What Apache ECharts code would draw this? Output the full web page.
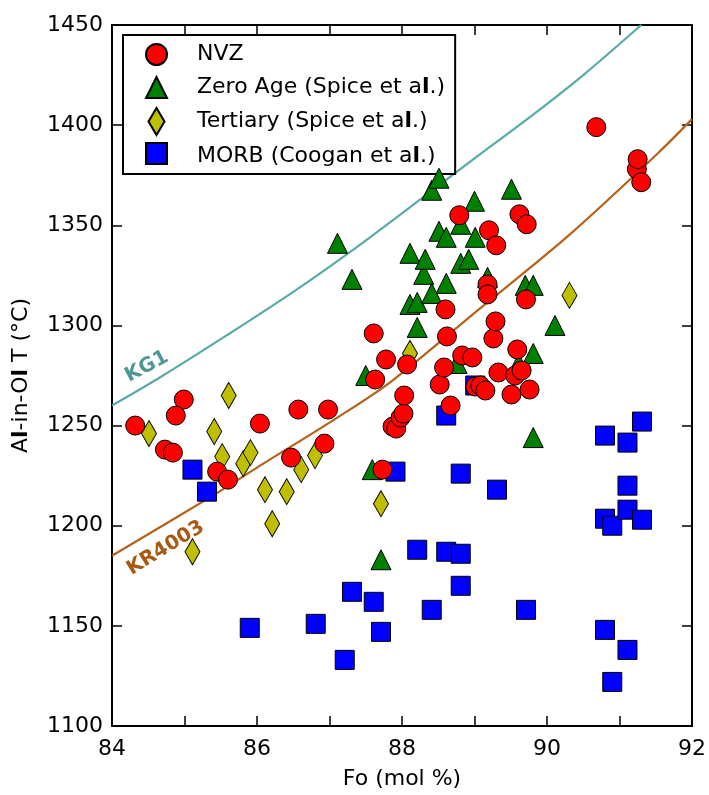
<!DOCTYPE html>
<html>
<head>
<meta charset="utf-8">
<script src="https://cdn.jsdelivr.net/npm/echarts@6/dist/echarts.min.js"></script>
<style>
  html, body { margin: 0; padding: 0; background: #fff; }
  #chart { width: 709px; height: 795px; }
</style>
</head>
<body>
<div id="chart"></div>
<script>
// Olivine Al-in-Ol temperatures against forsterite content, [Fo, T]
const nvz = [
  [84.32,1250],[84.99,1263],[84.88,1255],[84.73,1238],[84.84,1236.5],
  [85.45,1227],[85.60,1223],[86.04,1251],[86.57,1258],[86.98,1258],
  [86.47,1234],[86.93,1241],[87.61,1296],[87.78,1283],[87.63,1273],
  [87.73,1228],[87.87,1249.5],[87.92,1248.5],[87.98,1254],[88.02,1256],
  [88.03,1265],[88.07,1280.5],[88.52,1270.5],[88.58,1279],[88.60,1308],
  [88.62,1294.5],[88.67,1260],[88.79,1355],[88.83,1285],[88.97,1284],
  [89.01,1269.5],[89.08,1270],[89.15,1267.5],[89.18,1320.5],[89.18,1315.5],
  [89.20,1347.5],[89.26,1293.5],[89.29,1302],[89.30,1340],[89.33,1276.5],
  [89.51,1265.5],[89.56,1275],[89.59,1288],[89.62,1355.5],[89.65,1277.5],
  [89.71,1313],[89.72,1350.5],[89.76,1268],[90.68,1399],[91.24,1378],
  [91.25,1383],[91.30,1371.5]
];
const zeroAge = [
  [87.11,1341],[87.31,1323],[87.50,1275],[87.59,1228],[87.71,1183],
  [88.11,1336],[88.11,1310.5],[88.21,1311.5],[88.21,1299],[88.30,1325.5],
  [88.32,1333],[88.41,1367.5],[88.41,1316],[88.51,1373.5],[88.51,1347],
  [88.61,1344],[88.61,1321],[88.76,1281],[88.81,1350.5],[88.81,1331],
  [88.92,1333],[89.01,1344],[89.00,1362],[89.18,1324],[89.51,1368],
  [89.61,1281],[89.70,1320],[89.81,1320],[89.81,1286],[89.81,1244],
  [90.11,1300]
];
const tertiary = [
  [84.51,1246],[85.11,1187],[85.41,1247],[85.52,1234.5],[85.61,1265],
  [85.81,1231],[85.91,1236.5],[86.11,1218],[86.21,1201],[86.41,1217],
  [86.61,1228],[86.80,1235],[87.71,1211],[88.11,1286],[90.31,1315]
];
const morb = [
  [85.11,1228],[85.31,1217],[85.90,1149],[86.81,1151],[87.21,1133],
  [87.31,1167],[87.61,1162],[87.71,1147],[87.91,1227],[88.21,1188],
  [88.41,1158],[88.61,1255],[88.61,1187],[88.81,1186],[88.81,1226],
  [88.81,1170],[89.01,1270],[89.31,1218],[89.71,1158],[90.80,1245],
  [90.80,1203.5],[90.80,1148],[90.90,1200],[90.90,1122],[91.11,1241.5],
  [91.11,1220],[91.11,1208],[91.11,1138],[91.31,1252],[91.31,1203]
];
// Model curves (Fo, T)
const curveKG1 = [
  [84.0,1260],[84.66,1274],[85.58,1295],[86.49,1316.5],[87.41,1340],
  [88.33,1365],[89.06,1385],[89.8,1405],[90.5,1425],[91.3,1450]
];
const curveKR4003 = [
  [84.0,1185],[85.39,1215],[86.0,1229],[87.13,1254.5],[87.85,1272],
  [89.06,1308],[90.3,1345],[91.53,1386],[92.0,1403]
];
const seriesNames = ['NVZ', 'Zero Age (Spice et al.)', 'Tertiary (Spice et al.)', 'MORB (Coogan et al.)'];
const xTicks = { min: 84, max: 92, step: 1 };
const yTicks = { min: 1100, max: 1450, step: 50 };

const FONT = 'DejaVu Sans';
const FS = 22;
const boldL = s => s.replace(/l/g, '{b|l}');

const chart = echarts.init(document.getElementById('chart'), null, { renderer: 'canvas' });

const frameAxis = {
  axisLine: { show: true, onZero: false, lineStyle: { color: '#000', width: 2 } },
  axisTick: { show: true, inside: true, length: 10, lineStyle: { color: '#000', width: 1.5 } },
  splitLine: { show: false }
};

const mk = (name, data, symbol, size, color, z) => ({
  name, type: 'scatter', data, symbol, symbolSize: size, z,
  itemStyle: { color, borderColor: '#000', borderWidth: 1, opacity: 1 },
  emphasis: { disabled: true }
});

const curve = (name, data, color) => ({
  name, type: 'line', data, smooth: 0.3,
  showSymbol: false, symbol: 'none',
  lineStyle: { color, width: 2.2 }, z: 1, silent: true, clip: true
});

chart.setOption({
  animation: false,
  backgroundColor: '#fff',
  grid: { left: 112, right: 15, top: 25, bottom: 67, containLabel: false },
  xAxis: [
    Object.assign({}, frameAxis, {
      type: 'value', position: 'bottom', min: xTicks.min, max: xTicks.max, interval: xTicks.step,
      axisLabel: {
        fontFamily: FONT, fontSize: FS, color: '#000', margin: 12,
        formatter: v => (v % 2 === 0 ? String(v) : '')
      },
      name: 'Fo (mol %)', nameLocation: 'middle', nameGap: 42,
      nameTextStyle: { fontFamily: FONT, fontSize: FS, color: '#000' }
    }),
    Object.assign({}, frameAxis, {
      type: 'value', position: 'top', min: xTicks.min, max: xTicks.max, interval: xTicks.step,
      axisLabel: { show: false }
    })
  ],
  yAxis: [
    Object.assign({}, frameAxis, {
      type: 'value', position: 'left', min: yTicks.min, max: yTicks.max, interval: yTicks.step,
      axisLabel: { fontFamily: FONT, fontSize: FS, color: '#000', margin: 9, formatter: v => String(v) },
      name: '{n|A}{b|l}{n|-in-O}{b|l}{n| T (°C)}', nameLocation: 'middle', nameGap: 80,
      nameTextStyle: {
        fontFamily: FONT, fontSize: FS, color: '#000',
        rich: {
          n: { fontFamily: FONT, fontSize: FS, color: '#000' },
          b: { fontFamily: FONT, fontSize: FS, color: '#000', fontWeight: 'bold' }
        }
      }
    }),
    Object.assign({}, frameAxis, {
      type: 'value', position: 'right', min: yTicks.min, max: yTicks.max, interval: yTicks.step,
      axisLabel: { show: false }
    })
  ],
  legend: {
    orient: 'vertical', left: 123, top: 35,
    padding: [6, 10, 4, 22],
    itemWidth: 21, itemHeight: 27, itemGap: 6,
    symbolKeepAspect: true,
    backgroundColor: '#fff', borderColor: '#000', borderWidth: 2, borderRadius: 0,
    selectedMode: false,
    data: [
      { name: seriesNames[0], icon: 'circle' },
      { name: seriesNames[1], icon: 'path://M10,0L20,20L0,20Z' },
      { name: seriesNames[2], icon: 'path://M8,0L16,13.5L8,27L0,13.5Z' },
      { name: seriesNames[3], icon: 'square' }
    ],
    formatter: name => boldL(name),
    textStyle: {
      fontFamily: FONT, fontSize: FS, color: '#000', lineHeight: 27,
      padding: [0, 0, 0, 25],
      rich: { b: { fontFamily: FONT, fontSize: FS, color: '#000', fontWeight: 'bold' } }
    }
  },
  series: [
    curve('KG1', curveKG1, '#5aaba8'),
    curve('KR4003', curveKR4003, '#b5621a'),
    mk(seriesNames[3], morb, 'rect', 19, '#0000ff', 2),
    mk(seriesNames[2], tertiary, 'diamond', [15, 26], '#bfbf00', 3),
    mk(seriesNames[1], zeroAge, 'triangle', 20, '#008000', 4),
    mk(seriesNames[0], nvz, 'circle', 19, '#ff0000', 5)
  ]
});

// Curve labels, anchored in data space
const curveLabels = [
  { text: 'KG1', at: [84.48, 1279.4], angle: 28, color: '#4f9795' },
  { text: 'KR4003', at: [84.74, 1188.8], angle: 31.5, color: '#a85a14' }
];
chart.setOption({
  graphic: curveLabels.map(l => {
    const p = chart.convertToPixel({ gridIndex: 0 }, l.at);
    return {
      type: 'text', x: p[0], y: p[1], rotation: l.angle * Math.PI / 180, z: 10,
      style: {
        text: l.text, fill: l.color, font: 'bold 20px "DejaVu Sans"',
        align: 'center', verticalAlign: 'middle'
      }
    };
  })
});
</script>
</body>
</html>
